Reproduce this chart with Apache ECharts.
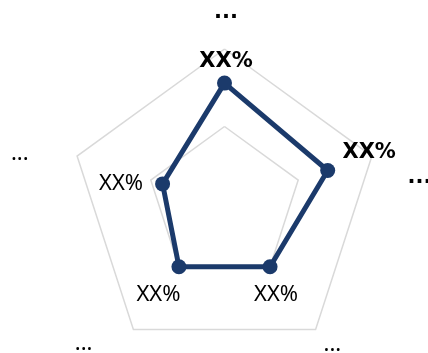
<!DOCTYPE html>
<html>
<head>
<meta charset="utf-8">
<script src="https://cdn.jsdelivr.net/npm/echarts@6/dist/echarts.min.js"></script>
<style>
  html, body { margin: 0; padding: 0; background: #fff; }
  #chart { width: 428px; height: 353px; }
</style>
</head>
<body>
<div id="chart"></div>
<script>
// Indicators go counter-clockwise from the top.
const indicatorNames = ['...', '...', '...', '...', '...'];
const indicatorMax = [100, 100, 100, 100, 100];
const scoreValues = [78, 42, 50, 50, 70];
const scoreLabels = ['XX%', 'XX%', 'XX%', 'XX%', 'XX%'];

const NAVY = '#1b3a6b';
const boldFont = { fontFamily: 'DejaVu Sans', fontWeight: 'bold', fontSize: 21, color: '#000' };
const plainFont = { fontFamily: 'Noto Sans', fontWeight: 'normal', fontSize: 22, color: '#000' };

// Per-axis text styling for the indicator names
const nameRich = {
  n0: Object.assign({}, boldFont, { padding: [0, 0, 16, 3] }),
  n1: Object.assign({}, plainFont, { padding: [2, 39, 0, 0] }),
  n2: Object.assign({}, plainFont, { padding: [12, 35, 0, 0] }),
  n3: Object.assign({}, plainFont, { padding: [14, 0, 0, 2] }),
  n4: Object.assign({}, boldFont, { padding: [50, 0, 0, 26] })
};

// Per-point text styling for the value labels
const valueRich = {
  v0: Object.assign({}, boldFont, { padding: [0, 0, 44, 3] }),
  v1: Object.assign({}, plainFont, { padding: [0, 83, 1, 0] }),
  v2: Object.assign({}, plainFont, { padding: [56, 41, 0, 0] }),
  v3: Object.assign({}, plainFont, { padding: [56, 0, 0, 12] }),
  v4: Object.assign({}, boldFont, { padding: [0, 0, 35, 83] })
};

const indicators = indicatorNames.map((name, i) => ({ name: name, max: indicatorMax[i], idx: i }));

const chart = echarts.init(document.getElementById('chart'), null, { renderer: 'canvas' });
chart.setOption({
  animation: false,
  backgroundColor: '#fff',
  radar: {
    center: [224.5, 204],
    radius: 155,
    splitNumber: 2,
    shape: 'polygon',
    nameGap: 10,
    indicator: indicators,
    axisName: {
      color: '#000',
      formatter: function (name, opt) {
        const i = opt && opt.idx != null ? opt.idx : 0;
        return '{n' + i + '|' + name + '}';
      },
      rich: nameRich
    },
    axisLine: { show: false },
    axisTick: { show: false },
    axisLabel: { show: false },
    splitArea: { show: false },
    splitLine: { lineStyle: { color: '#d9d9d9', width: 1.5 } }
  },
  series: [{
    type: 'radar',
    symbol: 'circle',
    symbolSize: 15,
    lineStyle: { color: NAVY, width: 5 },
    itemStyle: { color: NAVY },
    label: {
      show: true,
      position: 'inside',
      color: '#000',
      textBorderWidth: 0,
      formatter: function (p) {
        let i = p.dimensionIndex;
        if (i == null) i = scoreValues.indexOf(p.value);
        return '{v' + i + '|' + scoreLabels[i] + '}';
      },
      rich: valueRich
    },
    data: [{ value: scoreValues }]
  }]
});
</script>
</body>
</html>
